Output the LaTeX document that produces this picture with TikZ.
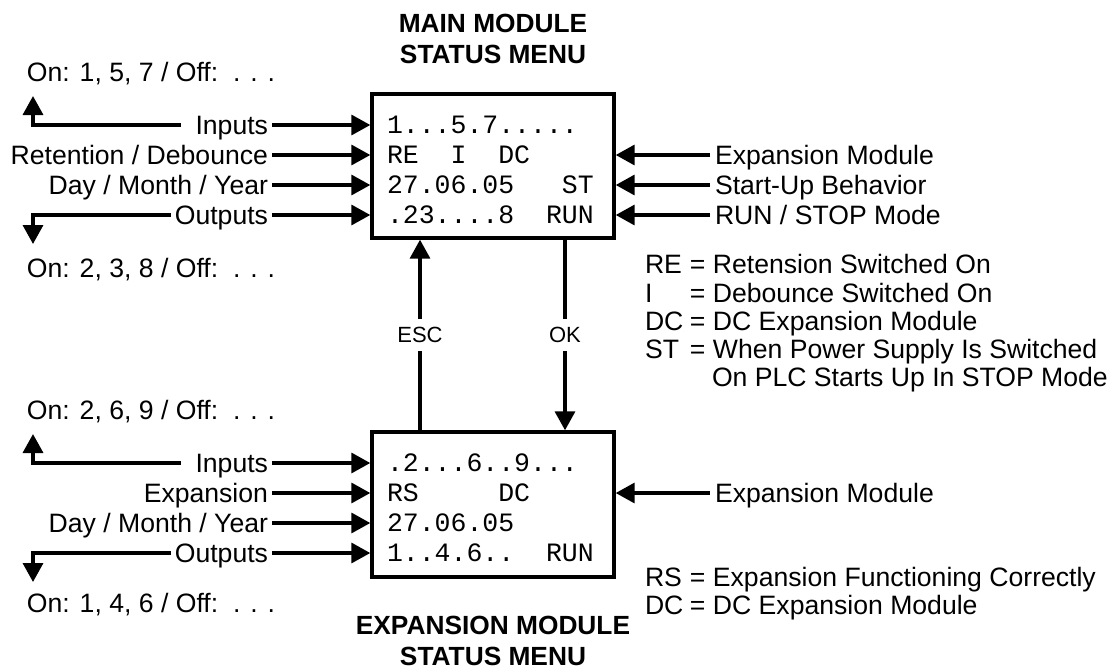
\documentclass[tikz,border=0pt]{standalone}
\usepackage{fontspec}
\setmainfont{Liberation Sans}
\setsansfont{Liberation Sans}
\setmonofont{Liberation Mono}
\usetikzlibrary{arrows.meta}
\newcommand\lgkey[1]{\makebox[45pt][l]{#1}= }
\tikzset{
  lbl/.style={font=\fontsize{26.6}{30}\selectfont, inner sep=0pt, outer sep=0pt, text height=19pt, text depth=0pt},
  mono/.style={font=\fontsize{26.5}{30}\selectfont\ttfamily, inner sep=0pt, outer sep=0pt, text height=16pt, text depth=0pt, anchor=west},
  ttl/.style={font=\fontsize{26.3}{31}\selectfont\bfseries, inner sep=0pt, align=center},
  smalllbl/.style={font=\fontsize{22}{24}\selectfont, fill=white, inner xsep=2pt, inner ysep=8pt, text height=15.5pt, text depth=0pt},
  menubox/.style={draw, line width=3.4pt, minimum width=242pt, minimum height=144pt, inner sep=0pt},
  arr/.style={line width=3.4pt, -{Triangle[length=19pt,width=20pt]}},
}
\begin{document}
\begin{tikzpicture}[x=1pt,y=-1pt]
\useasboundingbox (0,0) rectangle (1116,669);
% boxes
\node[menubox] (tb) at (493,166) {};
\node[menubox, minimum height=145pt] (bb) at (493,504.5) {};
% titles
\node[ttl] (t1) at (493,39) {MAIN MODULE\\STATUS MENU};
\node[ttl] (t2) at (493,640.5) {EXPANSION MODULE\\STATUS MENU};
% top box content
\node[mono] (m1) at (387,125) {1...5.7.....};
\node[mono] (m2) at (387,155) {RE~~I~~DC};
\node[mono] (m3) at (387,185) {27.06.05~~~ST};
\node[mono] (m4) at (387,215) {.23....8~~RUN};
% bottom box content
\node[mono] (n1) at (387,463) {.2...6..9...};
\node[mono] (n2) at (387,493) {RS~~~~~DC};
\node[mono] (n3) at (387,523) {27.06.05};
\node[mono] (n4) at (387,553) {1..4.6..~~RUN};
% top left labels
\node[lbl, anchor=east] (li1) at (268,125) {Inputs};
\node[lbl, anchor=east] (li2) at (268,155) {Retention / Debounce};
\node[lbl, anchor=east] (li3) at (268,185) {Day / Month / Year};
\node[lbl, anchor=east] (li4) at (268,215) {Outputs};
\node[lbl, anchor=west] (on1) at (27,72) {On: 1, 5, 7 / Off:~~. . .};
\node[lbl, anchor=west] (on2) at (27,268) {On: 2, 3, 8 / Off:~~. . .};
\coordinate (u1) at (33,96);
\coordinate (d1) at (33,244);
\foreach \n in {li1,li2,li3,li4}
  \draw[arr] ([xshift=4pt]\n.east) -- (\n.east -| tb.west);
\draw[arr] ([xshift=-15pt]li1.west) -| (u1);
\draw[arr] ([xshift=-4pt]li4.west) -| (d1);
% top right labels
\node[lbl, anchor=west] (ri1) at (715,155) {Expansion Module};
\node[lbl, anchor=west] (ri2) at (715,185) {Start-Up Behavior};
\node[lbl, anchor=west] (ri3) at (715,215) {RUN / STOP Mode};
\foreach \n in {ri1,ri2,ri3}
  \draw[arr] ([xshift=-5pt]\n.west) -- (\n.west -| tb.east);
% top legend
\node[lbl, anchor=west] (lg1) at (645,264) {\lgkey{RE}Retension Switched On};
\node[lbl, anchor=west] (lg2) at (645,293) {\lgkey{I}Debounce Switched On};
\node[lbl, anchor=west] (lg3) at (645,321) {\lgkey{DC}DC Expansion Module};
\node[lbl, anchor=west] (lg4) at (645,349) {\lgkey{ST}When Power Supply Is Switched};
\node[lbl, anchor=west] (lg5) at (712,377) {On PLC Starts Up In STOP Mode};
% ESC / OK
\coordinate (xesc) at (420,335);
\coordinate (xok) at (565,335);
\draw[arr] (xesc |- bb.north) -- node[smalllbl] (esc) {ESC} (xesc |- tb.south);
\draw[arr] (xok |- tb.south) -- node[smalllbl] (ok) {OK} (xok |- bb.north);
% bottom left labels
\node[lbl, anchor=east] (lj1) at (268,463) {Inputs};
\node[lbl, anchor=east] (lj2) at (268,493) {Expansion};
\node[lbl, anchor=east] (lj3) at (268,523) {Day / Month / Year};
\node[lbl, anchor=east] (lj4) at (268,553) {Outputs};
\node[lbl, anchor=west] (on3) at (27,410) {On: 2, 6, 9 / Off:~~. . .};
\node[lbl, anchor=west] (on4) at (27,603) {On: 1, 4, 6 / Off:~~. . .};
\coordinate (u2) at (33,434);
\coordinate (d2) at (33,582);
\foreach \n in {lj1,lj2,lj3,lj4}
  \draw[arr] ([xshift=4pt]\n.east) -- (\n.east -| bb.west);
\draw[arr] ([xshift=-15pt]lj1.west) -| (u2);
\draw[arr] ([xshift=-4pt]lj4.west) -| (d2);
% bottom right
\node[lbl, anchor=west] (rj1) at (715,493) {Expansion Module};
\draw[arr] ([xshift=-5pt]rj1.west) -- (rj1.west -| bb.east);
\node[lbl, anchor=west] (lg6) at (645,577) {\lgkey{RS}Expansion Functioning Correctly};
\node[lbl, anchor=west] (lg7) at (645,605) {\lgkey{DC}DC Expansion Module};
\end{tikzpicture}
\end{document}
